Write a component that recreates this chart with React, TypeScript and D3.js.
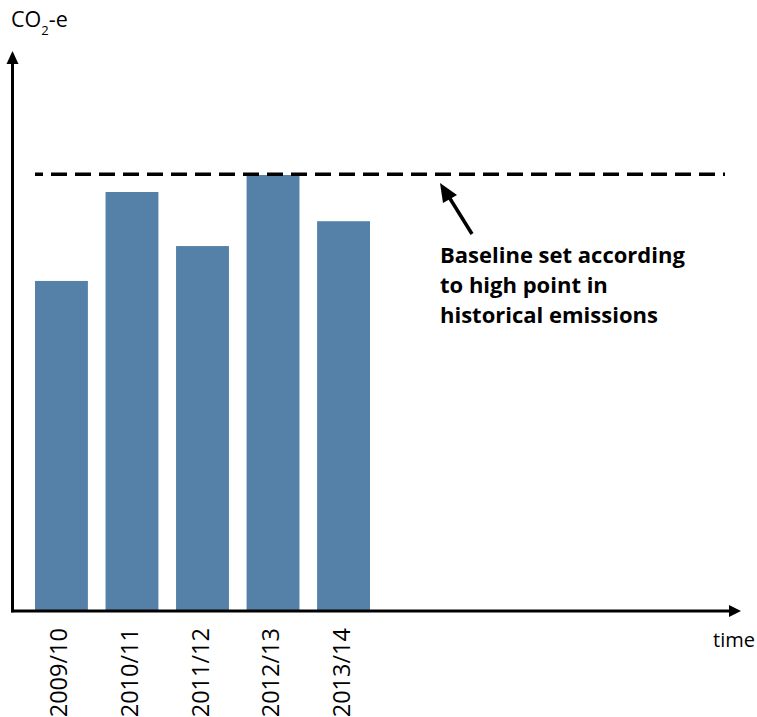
import React, { useEffect, useRef } from "react";
import * as d3 from "d3";

const years = ["2009/10", "2010/11", "2011/12", "2012/13", "2013/14"];
const emissions = [75.7, 96.1, 83.7, 100, 89.4];
const baseline = 100;
const noteLines = [
  "Baseline set according",
  "to high point in",
  "historical emissions",
];

const WIDTH = 757;
const HEIGHT = 717;
const BAR_COLOR = "#5580a8";
const FONT = "'Open Sans', 'DejaVu Sans', sans-serif";

export default function App() {
  const svgRef = useRef<SVGSVGElement | null>(null);

  useEffect(() => {
    const svg = d3.select(svgRef.current);
    svg.selectAll("*").remove();

    const x = d3.scaleBand<string>().domain(years).range([35, 370]).paddingInner(0.25).paddingOuter(0);
    const y = d3.scaleLinear().domain([0, 100]).range([611, 175]);

    const originX = 12.5;
    const originY = y(0);

    // bars
    svg
      .append("g")
      .selectAll("rect")
      .data(emissions)
      .join("rect")
      .attr("x", (_, i) => x(years[i])!)
      .attr("y", (d) => y(d))
      .attr("width", x.bandwidth())
      .attr("height", (d) => originY - y(d))
      .attr("fill", BAR_COLOR);

    // baseline
    svg
      .append("line")
      .attr("x1", 35)
      .attr("x2", 725)
      .attr("y1", y(baseline) - 0.7)
      .attr("y2", y(baseline) - 0.7)
      .attr("stroke", "#000")
      .attr("stroke-width", 3.5)
      .attr("stroke-dasharray", "16 8")
      .attr("stroke-dashoffset", 8);

    // axes
    const axes = svg.append("g");
    axes
      .append("line")
      .attr("x1", originX)
      .attr("x2", originX)
      .attr("y1", originY + 1.2)
      .attr("y2", 62)
      .attr("stroke", "#000")
      .attr("stroke-width", 3);
    axes
      .append("path")
      .attr("d", `M${originX},51 L${originX + 6},64 L${originX - 6},64 Z`)
      .attr("fill", "#000");
    axes
      .append("line")
      .attr("x1", originX - 1.5)
      .attr("x2", 731)
      .attr("y1", originY)
      .attr("y2", originY)
      .attr("stroke", "#000")
      .attr("stroke-width", 3);
    axes
      .append("path")
      .attr("d", `M741,${originY} L729,${originY - 6} L729,${originY + 6} Z`)
      .attr("fill", "#000");

    // category labels
    svg
      .append("g")
      .selectAll("text")
      .data(years)
      .join("text")
      .attr(
        "transform",
        (d) => `translate(${x(d)! + x.bandwidth() / 2 + 6},628) rotate(-90)`,
      )
      .attr("text-anchor", "end")
      .attr("font-family", FONT)
      .attr("font-size", 23.5)
      .attr("fill", "#000")
      .text((d) => d);

    // axis titles
    svg
      .append("text")
      .attr("x", 755)
      .attr("y", 647)
      .attr("text-anchor", "end")
      .attr("font-family", FONT)
      .attr("font-size", 20)
      .text("time");

    const co2 = svg
      .append("text")
      .attr("x", 11)
      .attr("y", 27)
      .attr("font-family", FONT)
      .attr("font-size", 21.5);
    co2.append("tspan").text("CO");
    co2.append("tspan").attr("font-size", 13).attr("dy", 8).text("2");
    co2.append("tspan").attr("dy", -8).text("-e");

    // annotation
    svg
      .append("line")
      .attr("x1", 472)
      .attr("y1", 234)
      .attr("x2", 449)
      .attr("y2", 197)
      .attr("stroke", "#000")
      .attr("stroke-width", 3.5);
    svg
      .append("path")
      .attr("d", "M440,183 L457,195 L443,203 Z")
      .attr("fill", "#000");

    svg
      .append("g")
      .selectAll("text")
      .data(noteLines)
      .join("text")
      .attr("x", 440)
      .attr("y", (_, i) => 263 + i * 30)
      .attr("font-family", FONT)
      .attr("font-weight", 700)
      .attr("font-size", 22)
      .attr("fill", "#000")
      .text((d) => d);
  }, []);

  return (
    <svg
      ref={svgRef}
      width={WIDTH}
      height={HEIGHT}
      style={{ position: "absolute", left: 0, top: 0, background: "#fff" }}
    />
  );
}
